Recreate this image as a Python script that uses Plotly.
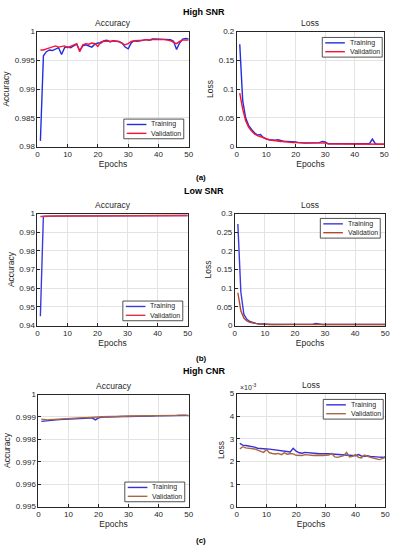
import plotly.graph_objects as go

epochs = list(range(1, 51))

# (a) High SNR
a_acc_train = [0.9810, 0.9958, 0.9965, 0.9968, 0.9967, 0.9970, 0.9972, 0.9960, 0.9972, 0.9973,
               0.9972, 0.9975, 0.9978, 0.9967, 0.9975, 0.9977, 0.9975, 0.9973, 0.9978, 0.9980,
               0.9980, 0.9984, 0.9985, 0.9982, 0.9984, 0.9984, 0.9983, 0.9980, 0.9973, 0.9970,
               0.9980, 0.9984, 0.9983, 0.9984, 0.9985, 0.9986, 0.9985, 0.9987, 0.9987, 0.9987,
               0.9987, 0.9987, 0.9986, 0.9986, 0.9983, 0.9969, 0.9980, 0.9987, 0.9988, 0.9987]
a_acc_val = [0.9968, 0.9968, 0.9970, 0.9972, 0.9973, 0.9975, 0.9973, 0.9974, 0.9975, 0.9972,
             0.9974, 0.9976, 0.9979, 0.9965, 0.9977, 0.9979, 0.9978, 0.9980, 0.9979, 0.9974,
             0.9982, 0.9983, 0.9983, 0.9984, 0.9984, 0.9983, 0.9982, 0.9980, 0.9977, 0.9979,
             0.9983, 0.9984, 0.9984, 0.9984, 0.9985, 0.9986, 0.9985, 0.9986, 0.9986, 0.9987,
             0.9987, 0.9986, 0.9985, 0.9984, 0.9981, 0.9979, 0.9983, 0.9985, 0.9985, 0.9985]
a_loss_train = [0.178, 0.080, 0.050, 0.037, 0.030, 0.024, 0.020, 0.021, 0.016, 0.013,
                0.012, 0.011, 0.011, 0.012, 0.010, 0.009, 0.009, 0.009, 0.008, 0.008,
                0.007, 0.006, 0.006, 0.006, 0.006, 0.006, 0.006, 0.007, 0.009, 0.008,
                0.005, 0.005, 0.005, 0.005, 0.004, 0.004, 0.004, 0.004, 0.004, 0.004,
                0.004, 0.004, 0.004, 0.004, 0.005, 0.013, 0.005, 0.004, 0.004, 0.004]
a_loss_val = [0.093, 0.065, 0.045, 0.034, 0.027, 0.022, 0.019, 0.017, 0.015, 0.013,
              0.012, 0.011, 0.010, 0.010, 0.009, 0.009, 0.008, 0.008, 0.007, 0.007,
              0.007, 0.006, 0.006, 0.006, 0.006, 0.006, 0.006, 0.006, 0.006, 0.006,
              0.005, 0.005, 0.005, 0.005, 0.005, 0.004, 0.004, 0.004, 0.004, 0.004,
              0.004, 0.004, 0.004, 0.004, 0.004, 0.004, 0.004, 0.004, 0.004, 0.004]

# (b) Low SNR
b_acc_train = [0.9450, 0.9985, 0.9986, 0.9986, 0.9987, 0.9987, 0.9985, 0.9987, 0.9988, 0.9988,
               0.9988, 0.9988, 0.9988, 0.9988, 0.9988, 0.9989, 0.9989, 0.9989, 0.9989, 0.9989,
               0.9989, 0.9988, 0.9989, 0.9989, 0.9989, 0.9989, 0.9988, 0.9989, 0.9989, 0.9989,
               0.9989, 0.9989, 0.9989, 0.9989, 0.9989, 0.9989, 0.9989, 0.9989, 0.9989, 0.9989,
               0.9989, 0.9989, 0.9989, 0.9989, 0.9989, 0.9989, 0.9989, 0.9989, 0.9989, 0.9989]
b_acc_val = [0.9984, 0.9985, 0.9986, 0.9986, 0.9986, 0.9987, 0.9987, 0.9987, 0.9987, 0.9988,
             0.9988, 0.9988, 0.9988, 0.9988, 0.9988, 0.9988, 0.9988, 0.9988, 0.9989, 0.9989,
             0.9989, 0.9989, 0.9989, 0.9989, 0.9989, 0.9989, 0.9989, 0.9989, 0.9989, 0.9989,
             0.9989, 0.9989, 0.9989, 0.9989, 0.9989, 0.9989, 0.9989, 0.9989, 0.9989, 0.9989,
             0.9989, 0.9989, 0.9989, 0.9989, 0.9989, 0.9989, 0.9989, 0.9989, 0.9989, 0.9989]
b_loss_train = [0.272, 0.090, 0.030, 0.017, 0.011, 0.008, 0.006, 0.005, 0.004, 0.004,
                0.003, 0.003, 0.003, 0.003, 0.003, 0.004, 0.003, 0.003, 0.003, 0.003,
                0.003, 0.003, 0.003, 0.003, 0.003, 0.004, 0.006, 0.004, 0.003, 0.003,
                0.003, 0.003, 0.003, 0.003, 0.003, 0.003, 0.003, 0.003, 0.003, 0.003,
                0.003, 0.003, 0.003, 0.003, 0.003, 0.003, 0.003, 0.003, 0.003, 0.003]
b_loss_val = [0.088, 0.040, 0.020, 0.013, 0.009, 0.007, 0.005, 0.004, 0.004, 0.003,
              0.003, 0.003, 0.003, 0.003, 0.003, 0.003, 0.003, 0.003, 0.003, 0.003,
              0.003, 0.003, 0.003, 0.003, 0.003, 0.003, 0.005, 0.004, 0.003, 0.003,
              0.003, 0.003, 0.003, 0.003, 0.003, 0.003, 0.003, 0.003, 0.003, 0.003,
              0.003, 0.003, 0.003, 0.003, 0.003, 0.003, 0.003, 0.003, 0.003, 0.003]

# (c) High CNR
c_acc_train = [0.99880, 0.99882, 0.99884, 0.99885, 0.99886, 0.99887, 0.99888, 0.99889, 0.99890, 0.99890,
               0.99891, 0.99892, 0.99893, 0.99893, 0.99894, 0.99894, 0.99895, 0.99895, 0.99887, 0.99896,
               0.99899, 0.99901, 0.99900, 0.99901, 0.99901, 0.99902, 0.99902, 0.99902, 0.99902, 0.99902,
               0.99901, 0.99903, 0.99903, 0.99903, 0.99903, 0.99904, 0.99902, 0.99904, 0.99905, 0.99905,
               0.99905, 0.99905, 0.99906, 0.99905, 0.99906, 0.99906, 0.99907, 0.99908, 0.99908, 0.99907]
c_acc_val = [0.99890, 0.99887, 0.99887, 0.99888, 0.99889, 0.99890, 0.99891, 0.99893, 0.99893, 0.99894,
             0.99895, 0.99895, 0.99896, 0.99896, 0.99897, 0.99897, 0.99897, 0.99898, 0.99898, 0.99900,
             0.99901, 0.99902, 0.99901, 0.99902, 0.99902, 0.99902, 0.99903, 0.99903, 0.99903, 0.99903,
             0.99904, 0.99904, 0.99904, 0.99905, 0.99904, 0.99905, 0.99905, 0.99906, 0.99906, 0.99906,
             0.99907, 0.99906, 0.99907, 0.99906, 0.99907, 0.99907, 0.99908, 0.99909, 0.99908, 0.99905]
c_loss_train_e3 = [2.80, 2.72, 2.70, 2.68, 2.66, 2.63, 2.58, 2.56, 2.55, 2.55,
                   2.54, 2.52, 2.50, 2.48, 2.46, 2.45, 2.43, 2.42, 2.58, 2.45,
                   2.38, 2.36, 2.40, 2.38, 2.36, 2.37, 2.35, 2.34, 2.35, 2.34,
                   2.34, 2.33, 2.32, 2.31, 2.30, 2.28, 2.27, 2.27, 2.26, 2.25,
                   2.30, 2.24, 2.22, 2.25, 2.22, 2.20, 2.20, 2.19, 2.18, 2.20]
c_loss_val_e3 = [2.55, 2.65, 2.60, 2.58, 2.58, 2.55, 2.50, 2.45, 2.40, 2.52,
                 2.38, 2.35, 2.33, 2.35, 2.30, 2.38, 2.32, 2.35, 2.33, 2.27,
                 2.25, 2.26, 2.30, 2.28, 2.27, 2.26, 2.27, 2.25, 2.26, 2.27,
                 2.28, 2.35, 2.20, 2.18, 2.22, 2.25, 2.40, 2.20, 2.22, 2.30,
                 2.18, 2.15, 2.28, 2.22, 2.18, 2.15, 2.10, 2.08, 2.12, 2.18]
c_loss_train = [v * 1e-3 for v in c_loss_train_e3]
c_loss_val = [v * 1e-3 for v in c_loss_val_e3]

row_titles = ["High SNR", "Low SNR", "High CNR"]
panel_labels = ["(a)", "(b)", "(c)"]
series_names = ["Training", "Validation"]
x_ticks = [0, 10, 20, 30, 40, 50]

acc_ticks = [[0.98, 0.985, 0.99, 0.995, 1.0],
             [0.94, 0.95, 0.96, 0.97, 0.98, 0.99, 1.0],
             [0.995, 0.996, 0.997, 0.998, 0.999, 1.0]]
acc_ticktext = [["0.98", "0.985", "0.99", "0.995", "1"],
                ["0.94", "0.95", "0.96", "0.97", "0.98", "0.99", "1"],
                ["0.995", "0.996", "0.997", "0.998", "0.999", "1"]]
loss_ticks = [[0, 0.05, 0.1, 0.15, 0.2],
              [0, 0.05, 0.1, 0.15, 0.2, 0.25, 0.3],
              [0, 0.001, 0.002, 0.003, 0.004, 0.005]]
loss_ticktext = [["0", "0.05", "0.1", "0.15", "0.2"],
                 ["0", "0.05", "0.1", "0.15", "0.2", "0.25", "0.3"],
                 ["0", "1", "2", "3", "4", "5"]]

W, H = 399, 550
FONT = "Liberation Sans, Arial, sans-serif"
INK = "#262626"


def xp(px):
    return px / W


def yp(py):
    return 1 - py / H


# pixel boxes (left, right, top, bottom) for each panel
boxes = [
    (36, 190, 28, 145), (239, 389, 28, 145),
    (36, 189, 213, 327), (237, 390, 213, 327),
    (37, 190, 397, 511), (239, 390, 396, 511),
]
# legend boxes (left, top) in pixels; size fixed
legend_boxes = [(124, 117), (326, 34), (123, 302), (324, 218), (125, 486), (327, 402)]
LEG_W, LEG_H = 61, 20

train_colors = ["#1f2fe0", "#1f2fe0", "#3a3ae0", "#3a3ae0", "#3a2ed8", "#3a2ed8"]
val_colors = ["#ff1030", "#ff1030", "#e0303a", "#b04a2a", "#a8673e", "#a8673e"]

series = [
    (a_acc_train, a_acc_val), (a_loss_train, a_loss_val),
    (b_acc_train, b_acc_val), (b_loss_train, b_loss_val),
    (c_acc_train, c_acc_val), (c_loss_train, c_loss_val),
]

fig = go.Figure()
layout = dict(
    width=W, height=H, margin=dict(l=0, r=0, t=0, b=0),
    paper_bgcolor="white", plot_bgcolor="white",
    font=dict(family=FONT, size=8, color=INK),
    showlegend=False,
    annotations=[], shapes=[],
)

for i, (tr, va) in enumerate(series):
    n = i + 1
    sx = "" if n == 1 else str(n)
    fig.add_trace(go.Scatter(x=epochs, y=tr, mode="lines", name=series_names[0],
                             line=dict(color=train_colors[i], width=1.4),
                             xaxis="x" + sx, yaxis="y" + sx))
    fig.add_trace(go.Scatter(x=epochs, y=va, mode="lines", name=series_names[1],
                             line=dict(color=val_colors[i], width=1.4),
                             xaxis="x" + sx, yaxis="y" + sx))
    l, r, t, b = boxes[i]
    row = i // 2
    is_acc = (i % 2 == 0)
    if is_acc:
        tv, tt = acc_ticks[row], acc_ticktext[row]
        ytitle = "Accuracy"
    else:
        tv, tt = loss_ticks[row], loss_ticktext[row]
        ytitle = "Loss"
    common = dict(showline=True, linecolor=INK, linewidth=0.8, mirror=True,
                  showgrid=True, gridcolor="#e3e3e3", gridwidth=0.8, zeroline=False,
                  ticks="inside", ticklen=3, tickcolor=INK,
                  tickfont=dict(size=8, family=FONT, color=INK))
    layout["xaxis" + sx] = dict(domain=[xp(l), xp(r)], anchor="y" + sx, range=[0, 50],
                                tickvals=x_ticks,
                                title=dict(text="Epochs", font=dict(size=8.5, family=FONT), standoff=2),
                                **common)
    layout["yaxis" + sx] = dict(domain=[yp(b), yp(t)], anchor="x" + sx,
                                range=[tv[0], tv[-1]], tickvals=tv, ticktext=tt,
                                title=dict(text=ytitle, font=dict(size=8.5, family=FONT), standoff=3),
                                **common)
    # panel title
    layout["annotations"].append(dict(
        text="Accuracy" if is_acc else "Loss", x=xp((l + r) / 2), y=yp(t - 2),
        xref="paper", yref="paper", xanchor="center", yanchor="bottom",
        showarrow=False, font=dict(size=8.5, family=FONT, color=INK)))
    # legend box
    lx, ly = legend_boxes[i]
    layout["shapes"].append(dict(type="rect", xref="paper", yref="paper",
                                 x0=xp(lx), x1=xp(lx + LEG_W), y0=yp(ly + LEG_H), y1=yp(ly),
                                 line=dict(color=INK, width=0.8), fillcolor="white", layer="above"))
    for k, (name, col) in enumerate(zip(series_names, [train_colors[i], val_colors[i]])):
        yy = ly + 5.5 + 9 * k
        layout["shapes"].append(dict(type="line", xref="paper", yref="paper",
                                     x0=xp(lx + 3), x1=xp(lx + 23), y0=yp(yy), y1=yp(yy),
                                     line=dict(color=col, width=1.4), layer="above"))
        layout["annotations"].append(dict(
            text=name, x=xp(lx + 26), y=yp(yy), xref="paper", yref="paper",
            xanchor="left", yanchor="middle", showarrow=False,
            font=dict(size=7, family=FONT, color=INK)))

# exponent label for (c) loss
layout["annotations"].append(dict(
    text="\u00d710<sup>-3</sup>", x=xp(240), y=yp(395), xref="paper", yref="paper",
    xanchor="left", yanchor="bottom", showarrow=False,
    font=dict(size=7, family=FONT, color=INK)))

row_title_y = [8, 190, 373]
label_y = [176, 360, 545]
for k in range(3):
    layout["annotations"].append(dict(
        text="<b>" + row_titles[k] + "</b>", x=xp(206), y=yp(row_title_y[k]),
        xref="paper", yref="paper", xanchor="center", yanchor="middle",
        showarrow=False, font=dict(size=9, family=FONT, color="black")))
    layout["annotations"].append(dict(
        text="<b>" + panel_labels[k] + "</b>", x=xp(203), y=yp(label_y[k]),
        xref="paper", yref="paper", xanchor="center", yanchor="middle",
        showarrow=False, font=dict(size=8, family=FONT, color="black")))

fig.update_layout(**layout)
fig.write_html("out.html", config={"displayModeBar": False},
               post_script="document.body.style.margin='0px';document.body.style.overflow='hidden';")
